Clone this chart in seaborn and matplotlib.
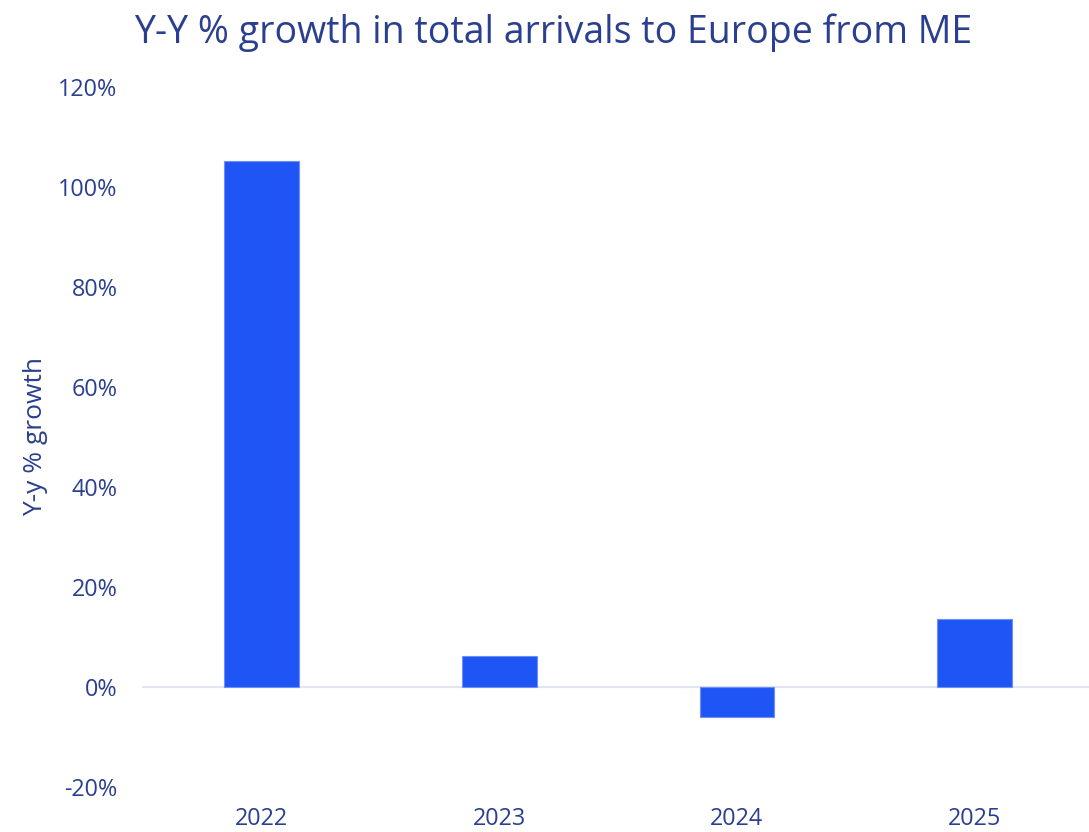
import matplotlib
matplotlib.use("Agg")
import matplotlib.pyplot as plt
import seaborn as sns
import pandas as pd

years = ["2022", "2023", "2024", "2025"]
growth = [105.3, 6.1, -6.1, 13.5]
yticks = [-20, 0, 20, 40, 60, 80, 100, 120]

sns.set_theme(style="white")
plt.rcParams["font.family"] = ["Open Sans", "DejaVu Sans"]

TXT = "#2a3f8f"
BAR = "#1f55f5"

df = pd.DataFrame({"year": years, "growth": growth})

fig = plt.figure(figsize=(10.89, 8.32), dpi=100)
ax = fig.add_axes([142.4 / 1089, 45.4 / 832, 1 - 142.4 / 1089, (786.6 - 87.3) / 832])

sns.barplot(data=df, x="year", y="growth", color=BAR, width=0.315, ax=ax,
            saturation=1, edgecolor="#6f8ff8", linewidth=0.8, zorder=3)

ax.axhline(0, color="#e3e6ee", linewidth=1.6, zorder=2)
ax.set_ylim(-20, 120)
ax.set_xlim(-0.5, 3.48)
ax.set_yticks(yticks)
ax.set_yticklabels([f"{v}%" for v in yticks])
for s in ax.spines.values():
    s.set_visible(False)
ax.tick_params(axis="both", length=0, labelsize=16.8, colors=TXT)
ax.tick_params(axis="y", pad=18)
ax.tick_params(axis="x", pad=15)
ax.set_xlabel("")
ax.set_ylabel("Y-y % growth", fontsize=19, color=TXT)
ax.yaxis.set_label_coords(-94 / (1089 - 142.4), 0.5)

fig.text(134 / 1089, 1 - 33 / 832, "Y-Y % growth in total arrivals to Europe from ME",
         fontsize=27, color=TXT, ha="left", va="center")

fig.savefig("out.png", dpi=100)
